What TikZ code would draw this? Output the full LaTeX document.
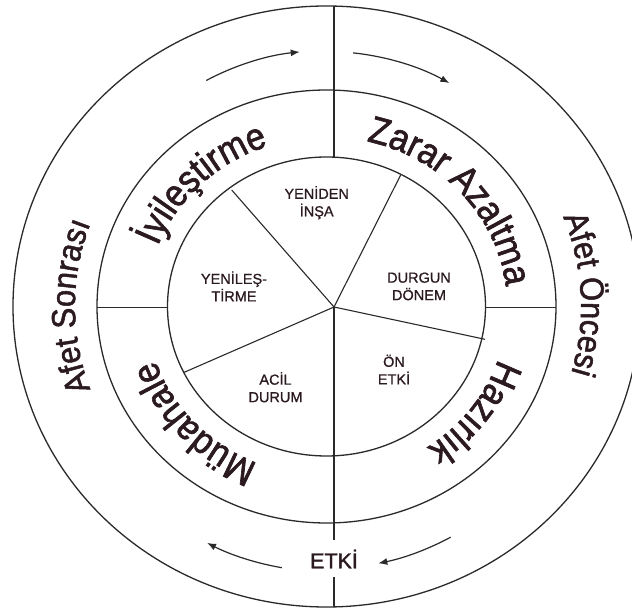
\documentclass[tikz,border=0pt]{standalone}
\usepackage{fontspec}
\setmainfont{Liberation Sans}
\newfontfamily\heavyfont[FakeBold=1.6]{Liberation Sans}
\newfontfamily\ringfont[FakeBold=1.7,FakeStretch=0.9]{Liberation Sans}
\newfontfamily\outfont[FakeBold=1.5,FakeStretch=0.92]{Liberation Sans}
\newfontfamily\midfont[FakeBold=0.8]{Liberation Sans}
\usetikzlibrary{arrows.meta,decorations.text,calc}
\definecolor{ink}{HTML}{2A2A2A}
\definecolor{txt}{HTML}{2B1A1F}
\begin{document}
\begin{tikzpicture}[x=1pt,y=1pt,
  ring/.style={draw=ink, line width=1.3pt},
  spoke/.style={draw=ink, line width=1.1pt},
  flow/.style={draw=ink, line width=1.2pt, -{Latex[length=9pt,width=7pt]}},
  inlabel/.style={font=\midfont\fontsize{14.5}{17.5}\selectfont, text=txt, align=center, inner sep=0pt},
  bigtext/.style={decorate, decoration={text along path, text align=center, text color=txt, text={|\ringfont\fontsize{38}{38}\selectfont|#1}}},
  outtext/.style={decorate, decoration={text along path, text align=center, text color=txt, text={|\outfont\fontsize{33.5}{33.5}\selectfont|#1}}}
]
\useasboundingbox (0,0) rectangle (632,613);
\fill[white] (0,0) rectangle (632,613);
\clip (0,0) rectangle (632,613);
\coordinate (C) at (326.5,306.5);
\coordinate (S) at (334,306);
% rings
\draw[ring] (C) ellipse [x radius=313.5pt, y radius=300.5pt];
\draw[ring] (C) ellipse [x radius=229.5pt, y radius=216.5pt];
\draw[ring] (C) ellipse [x radius=159pt, y radius=149.5pt];
% division lines
\coordinate (OT) at (334,607);
\coordinate (IT) at (334,455.8);
\coordinate (EA) at (334,73);
\coordinate (EB) at (334,36);
\coordinate (OB) at (334,6.1);
\coordinate (ML) at (97,306);
\coordinate (IL) at (167.5,306);
\coordinate (IR) at (485.5,306);
\coordinate (MR) at (556,306);
\coordinate (P1) at (231.7,423);
\coordinate (P2) at (400.7,438);
\coordinate (P3) at (485,273.7);
\coordinate (P4) at (183.3,240.3);
\draw[spoke] (OT) -- (IT);
\draw[spoke] (S) -- (EA);
\draw[spoke] (EB) -- (OB);
\draw[spoke, line width=0.9pt] (ML) -- (IL);
\draw[spoke, line width=0.9pt] (IR) -- (MR);
\draw[spoke] (S) -- (P1);
\draw[spoke] (S) -- (P2);
\draw[spoke] (S) -- (P3);
\draw[spoke] (S) -- (P4);
% inner labels
\node[inlabel] (yi) at (316.7,410.2) {YENİDEN\\İNŞA};
\node[inlabel] (yl) at (234,326.6) {YENİLEŞ-\\TİRME};
\node[inlabel] (dd) at (419,326.6) {DURGUN\\DÖNEM};
\node[inlabel] (oe) at (394,243.5) {ÖN\\ETKİ};
\node[inlabel] (ad) at (275.5,225.8) {ACİL\\DURUM};
\node[font=\heavyfont\fontsize{21.5}{21.5}\selectfont, text=txt, inner sep=0pt] (etki) at (334,54) {ETKİ};
\begin{scope}[shift={(C)}]
  % ring labels
  \path[bigtext={İyileştirme}] (195:180.5 and 169.5) arc[start angle=195, end angle=75, x radius=180.5pt, y radius=169.5pt];
  \path[bigtext={Zarar Azaltma}] (110:180.5 and 169.5) arc[start angle=110, end angle=-28, x radius=180.5pt, y radius=169.5pt];
  \path[bigtext={Hazırlık}] (24:180.5 and 169.5) arc[start angle=24, end angle=-96, x radius=180.5pt, y radius=169.5pt];
  \path[bigtext={Müdahale}] (282:180.5 and 169.5) arc[start angle=282, end angle=162, x radius=180.5pt, y radius=169.5pt];
  \path[outtext={Afet Sonrası}] (240:251.5 and 239.5) arc[start angle=240, end angle=120, x radius=251.5pt, y radius=239.5pt];
  \path[outtext={Afet Öncesi}] (62.8:254.5 and 242.3) arc[start angle=62.8, end angle=-57.2, x radius=254.5pt, y radius=242.3pt];
  % flow arrows
  \draw[flow] (118:256) arc[start angle=118, end angle=96, radius=256pt];
  \draw[flow] (84:255) arc[start angle=84, end angle=61.2, radius=255pt];
  \draw[flow] (-61.7:262) arc[start angle=-61.7, end angle=-78.6, radius=262pt];
  \draw[flow] (-99.7:265) arc[start angle=-99.7, end angle=-117, radius=262pt];
\end{scope}
\end{tikzpicture}
\end{document}
